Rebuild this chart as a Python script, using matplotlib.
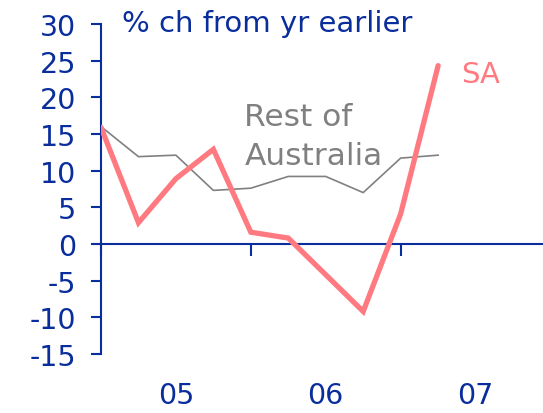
import matplotlib.pyplot as plt
from matplotlib.ticker import FixedLocator, FixedFormatter

plt.rcParams['axes.unicode_minus'] = False

# Quarterly data, 2005 Q1 onwards (% change from year earlier)
quarters = list(range(10))
sa = [15.9, 2.9, 8.9, 12.9, 1.6, 0.8, -4.2, -9.2, 4.1, 24.3]
rest_of_aus = [16.0, 11.9, 12.1, 7.3, 7.6, 9.2, 9.2, 7.0, 11.7, 12.1]

year_ticks = [0, 4, 8]
label_pos = [2, 6, 10]
year_labels = ["05", "06", "07"]
y_ticks = list(range(-15, 31, 5))

blue = "#0a2d9c"
pink = "#ff7a80"
grey = "#808080"

fig = plt.figure(figsize=(5.43, 4.14), dpi=100)
ax = fig.add_axes([0.186, 0.1425, 0.814, 0.7975])

ax.plot(quarters, rest_of_aus, color=grey, lw=1.2, zorder=3)
ax.plot(quarters, sa, color=pink, lw=3.8, solid_capstyle="round", solid_joinstyle="miter", zorder=4)

ax.set_xlim(0, 11.8)
ax.set_ylim(-15, 30)

for side in ["top", "right"]:
    ax.spines[side].set_visible(False)
ax.spines["bottom"].set_position(("data", 0))
ax.spines["left"].set_color(blue)
ax.spines["bottom"].set_color(blue)
ax.spines["left"].set_linewidth(1.5)
ax.spines["bottom"].set_linewidth(1.5)

ax.set_yticks(y_ticks)
ax.tick_params(axis="y", direction="out", length=7, width=1.5, color=blue,
               labelcolor=blue, labelsize=20.5, pad=11)

ax.xaxis.set_major_locator(FixedLocator(year_ticks))
ax.xaxis.set_major_formatter(FixedFormatter(["", "", ""]))
ax.xaxis.set_minor_locator(FixedLocator(label_pos))
ax.xaxis.set_minor_formatter(FixedFormatter(year_labels))
ax.tick_params(axis="x", which="major", direction="out", length=8.5, width=1.5, color=blue)
ax.tick_params(axis="x", which="minor", length=0, labelcolor=blue, labelsize=20.5, pad=99)

fig.text(122 / 543, 1 - 10 / 414, "% ch from yr earlier", color=blue, fontsize=21,
         ha="left", va="top")
ax.text(9.62, 22.1, "SA", color=pink, fontsize=21, ha="left", va="baseline")
ax.text(3.83, 16.2, "Rest of", color=grey, fontsize=22.5, ha="left", va="baseline")
ax.text(3.83, 10.9, "Australia", color=grey, fontsize=22.5, ha="left", va="baseline")

fig.savefig("out.png", dpi=100)
